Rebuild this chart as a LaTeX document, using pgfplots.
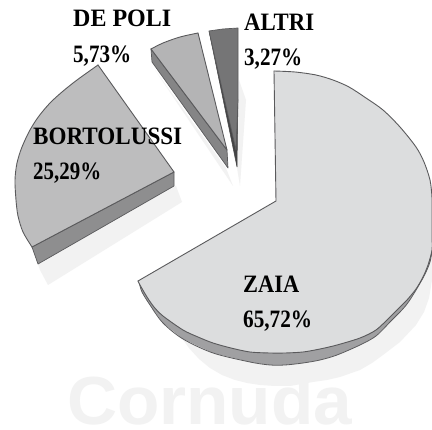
\documentclass[border=0pt]{standalone}
\usepackage{pgfplots}
\pgfplotsset{compat=1.18}
\usepackage{fontspec}
\setmainfont{Liberation Serif}
\newfontfamily\wm{Liberation Sans}
\definecolor{zt}{HTML}{DCDDDE}
\definecolor{zs}{HTML}{A0A0A2}
\definecolor{bt}{HTML}{BDBDBE}
\definecolor{bs}{HTML}{8E8E8F}
\definecolor{dt}{HTML}{B4B4B5}
\definecolor{ds}{HTML}{858586}
\definecolor{at}{HTML}{757576}
\definecolor{as}{HTML}{444445}
\definecolor{sh}{HTML}{F2F2F2}
\definecolor{ln}{HTML}{5A5A5C}
\newcommand{\lab}[4]{\node[anchor=base west,inner sep=0pt,text=black] at (axis cs:#1,#2) {\resizebox{#3pt}{\height}{\fontsize{25}{25}\selectfont\bfseries #4}};}
\begin{document}
\begin{tikzpicture}
\begin{axis}[
  hide axis, scale only axis, width=432pt, height=430pt,
  xmin=0, xmax=432, ymin=0, ymax=430, y dir=reverse, clip=true,
  every axis plot/.append style={line join=round,line cap=round}]
\addplot[fill=white,draw=none] coordinates {(0,0)(432,0)(432,430)(0,430)(0,0)};
% watermark
\node[anchor=base west,inner sep=0pt,text=sh] at (axis cs:67,425) {\resizebox{285pt}{\height}{\fontsize{68}{68}\selectfont\wm\bfseries Cornuda}};
% shadows
\addplot[fill=sh,draw=none] coordinates {(160,308)(168,317)(178,333)(189,348)(199,359)(210,368)(222,375)(235,380)(247,383)(260,385)(275,386)(290,386)(313,382)(327,380)(340,377)(360,370)(372,363)(383,355)(400,342)(416,325)(424,312)(429,298)(432,280)(432,240)(300,300)(160,308)};
\addplot[fill=sh,draw=none] coordinates {(32,247)(40,270)(48,285)(182,202)(176,186)(32,247)};
\addplot[fill=sh,draw=none] coordinates {(155,70)(233,186)(226,168)(155,70)};
\addplot[fill=sh,draw=none] coordinates {(239,80)(246,100)(240,186)(237,168)(239,80)};
% Zaia side fill and lower rim
\addplot[fill=zs,draw=none] coordinates {(139,282)(142,292)(150,305)(163,323)(183,339)(213,353)(250,362)(270,365)(285,365)(303,363)(320,360)(337,355)(360,345)(376,336)(390,322)(407,304)(423,278)(430,262)(432,250)(432,240)(300,300)(139,282)};
\addplot[draw=ln,line width=.8pt,smooth] coordinates {(139,282)(142,292)(150,305)(163,323)(183,339)(213,353)(250,362)(270,365)(285,365)(303,363)(320,360)(337,355)(360,345)(376,336)(390,322)(407,304)(423,278)(430,262)(432,250)};
% Zaia top
\addplot[fill=zt,draw=none] coordinates {(274,71)(295,72)(316,75)(333,80)(349,87)(366,98)(383,110)(400,127)(416,147)(424,162)(430,180)(432,198)(432,217)(432,235)(432,250)(428,265)(423,277)(416,289)(407,300)(399,308)(390,317)(376,330)(360,338)(337,345)(320,349)(303,352)(285,353)(270,353)(250,352)(231,348)(213,343)(198,337)(183,330)(163,316)(154,307)(147,297)(140,285)(138,281)(276,201)(274,71)};
\addplot[draw=ln,line width=.9pt,smooth] coordinates {(274,71)(295,72)(316,75)(333,80)(349,87)(366,98)(383,110)(400,127)(416,147)(424,162)(430,180)(432,198)(432,217)(432,235)(432,250)(428,265)(423,277)(416,289)(407,300)(399,308)(390,317)(376,330)(360,338)(337,345)(320,349)(303,352)(285,353)(270,353)(250,352)(231,348)(213,343)(198,337)(183,330)(163,316)(154,307)(147,297)(140,285)(138,281)};
\addplot[draw=ln,line width=.9pt] coordinates {(138,281)(276,201)(274,71)};
% Bortolussi
\addplot[fill=bs,draw=ln,line width=.7pt] coordinates {(32,247)(38,264)(174,186)(174,172)(32,247)};
\addplot[fill=bt,draw=none] coordinates {(98,65)(77,80)(62,92)(50,103)(39,116)(30,130)(22,147)(17,163)(15,180)(16,200)(18,216)(23,232)(32,247)(174,172)(98,65)};
\addplot[draw=ln,line width=.9pt,smooth] coordinates {(98,65)(77,80)(62,92)(50,103)(39,116)(30,130)(22,147)(17,163)(15,180)(16,200)(18,216)(23,232)(32,247)};
\addplot[draw=ln,line width=.9pt] coordinates {(32,247)(174,172)(98,65)};
% De Poli
\addplot[fill=ds,draw=ln,line width=.7pt] coordinates {(151,49)(152,62)(228,168)(227,150)(151,49)};
\addplot[fill=dt,draw=none] coordinates {(151,49)(163,43)(180,37)(198,33)(227,150)(151,49)};
\addplot[draw=ln,line width=.9pt,smooth] coordinates {(151,49)(163,43)(180,37)(198,33)};
\addplot[draw=ln,line width=.9pt] coordinates {(198,33)(227,150)(151,49)};
% Altri
\addplot[fill=as,draw=as,line width=.5pt] coordinates {(209,31)(237,167)(238,100)(232,120)(209,31)};
\addplot[fill=at,draw=ln,line width=.7pt] coordinates {(209,31)(223,29)(238,28)(238,100)(236,150)(209,31)};
% labels
\lab{73}{27}{98}{DE POLI}
\lab{73}{63}{58}{5,73\%}
\lab{244}{31}{70}{ALTRI}
\lab{244}{66}{58}{3,27\%}
\lab{33}{145}{149}{BORTOLUSSI}
\lab{33}{180}{68}{25,29\%}
\lab{243}{293}{56}{ZAIA}
\lab{243}{328}{69}{65,72\%}
\end{axis}
\end{tikzpicture}
\end{document}
